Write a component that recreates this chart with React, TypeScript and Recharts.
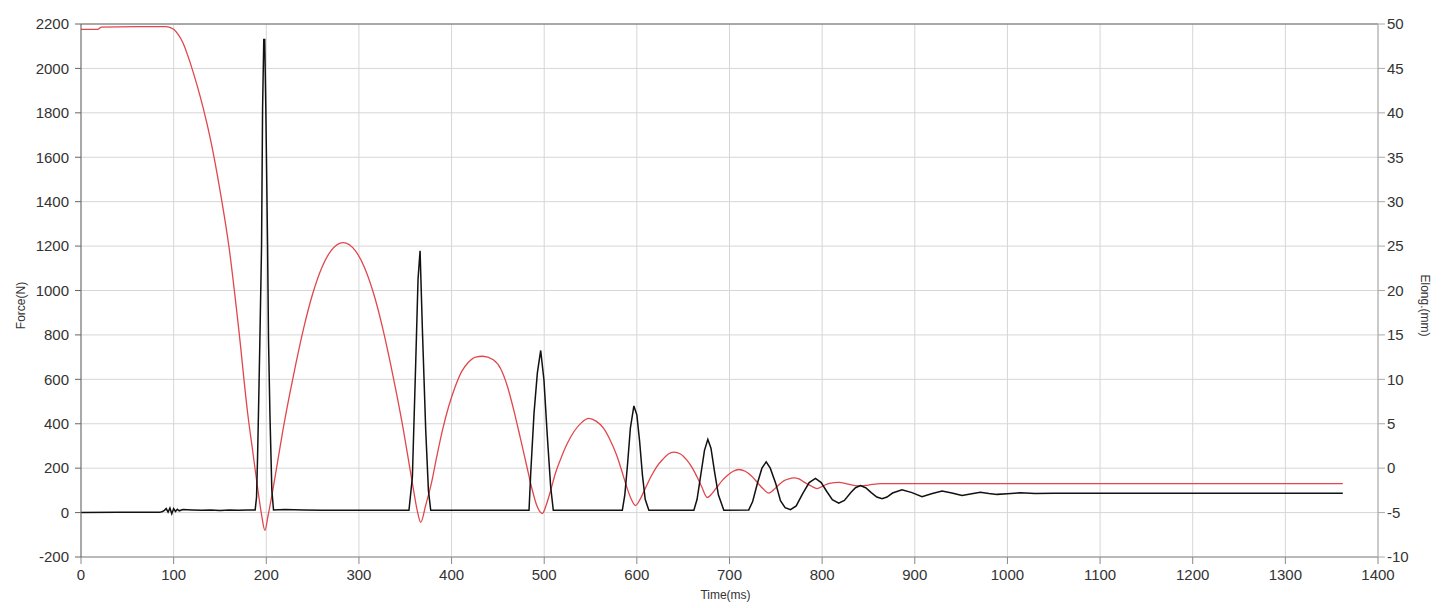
import React from 'react';
import { LineChart, Line, XAxis, YAxis, CartesianGrid, ReferenceLine, Label } from 'recharts';

// Force (N) trace, left axis
const forceTime = [
  0, 40, 85, 88, 90, 92, 94, 96, 98, 100, 102, 104, 106, 110, 120, 130, 140, 150, 160, 170, 180, 188,
  189.5, 190.6, 191.7, 193.1, 194.9, 196, 197.3, 198.3, 199.5, 201.4, 202.4, 203.9, 206, 207.8,
  220, 240, 260, 300, 354,
  357.7, 361.3, 363.8, 366, 368.5, 372.1, 375, 377.5, 483.6,
  485.4, 489, 492.6, 496.2, 499.7, 503.4, 507, 509.8, 584.3,
  587, 590, 593, 596.8, 600, 603, 606, 609, 613, 661.5,
  665, 669, 673, 676.6, 680, 684, 688, 693.9, 720.8,
  725, 730, 735, 739.6, 744, 750, 755, 760, 765.8,
  772, 779, 786, 792.8, 799, 805, 811, 817.9, 824, 831, 836, 841.3, 847, 853, 859, 864.7,
  870, 876, 886.2, 897, 907.8, 918, 929.4, 940, 951, 960, 970.7, 980, 988.7, 1000, 1014, 1030, 1050, 1100, 1362,
];
const forceValue = [
  0, 1, 1, 5, 10, 18, 2, 20, -5, 18, 5, 15, 8, 14, 12, 10, 12, 9, 12, 10, 12, 12,
  70, 250, 477, 779, 1201, 1820, 2130, 2130, 1820, 1201, 779, 448, 100, 12,
  14, 12, 10, 10, 10,
  160, 675, 1050, 1179, 824, 371, 100, 10, 10,
  175, 448, 629, 730, 598, 341, 115, 10, 10,
  80, 220, 380, 480, 440, 320, 170, 60, 10, 10,
  60, 170, 280, 330, 290, 180, 80, 10, 12,
  50, 130, 200, 228, 200, 130, 54, 22, 13,
  30, 85, 135, 154, 135, 95, 58, 42, 55, 90, 112, 122, 112, 90, 70, 62,
  70, 88, 103, 90, 72, 85, 97, 88, 77, 84, 92, 86, 82, 85, 89, 86, 87, 87, 87,
];

// Elongation (mm) trace, right axis
const elongTime = [
  0, 18, 22, 60, 92, 100, 105, 110, 118, 125, 132, 140, 150, 160, 170, 180, 186, 191, 195, 198.5,
  202, 207, 212, 218, 225, 232, 240, 250, 260, 270, 283, 296, 306, 316, 326, 334, 341, 348, 354, 359, 363, 366.7,
  372, 378, 384, 390, 397, 404, 411, 418, 426, 433.6, 445, 453, 460, 467, 474, 481, 487, 492, 498,
  502, 507, 512, 518, 525, 532, 540, 548, 556, 564, 571, 578, 584, 589, 594, 598.6,
  603, 609, 615, 621, 628, 634, 640, 647, 654, 660, 665, 670, 676,
  680, 686, 692, 698, 704, 710, 717, 724, 730, 736, 742.4,
  747, 753, 759, 764, 769.4, 775, 781, 788, 794.6,
  801, 808, 818, 828, 839, 850, 863, 900, 1000, 1100, 1200, 1300, 1362,
];
const elongValue = [
  49.4, 49.4, 49.65, 49.7, 49.7, 49.4, 48.8, 47.9, 45.6, 43.2, 40.5, 36.9, 31.3, 24.7, 15.9, 6.1, 1.4, -2.5, -5.3, -7.0,
  -5.3, -2.5, 0.6, 4.3, 8.2, 11.8, 15.6, 19.6, 22.6, 24.5, 25.4, 24.5, 22.6, 19.6, 15.6, 11.8, 8.2, 4.3, 0.6, -2.5, -4.8, -6.1,
  -4.2, -1.8, 1.3, 4.2, 7.0, 9.2, 10.9, 11.9, 12.5, 12.6, 12.2, 11.2, 9.3, 6.6, 3.5, 0.3, -2.4, -4.2, -5.1,
  -4.2, -2.5, -0.6, 1.1, 2.8, 4.1, 5.1, 5.6, 5.3, 4.5, 3.2, 1.5, -0.4, -2.1, -3.5, -4.2,
  -3.6, -2.3, -1.0, 0.1, 1.0, 1.6, 1.8, 1.6, 0.9, 0.0, -1.0, -2.1, -3.3,
  -3.0, -2.2, -1.4, -0.8, -0.35, -0.15, -0.35, -0.9, -1.6, -2.3, -2.8,
  -2.5, -1.9, -1.4, -1.2, -1.1, -1.2, -1.6, -2.0, -2.3,
  -2.0, -1.7, -1.6, -1.8, -2.0, -1.9, -1.75, -1.75, -1.75, -1.75, -1.75, -1.75, -1.75,
];

const timeTicks = [0, 100, 200, 300, 400, 500, 600, 700, 800, 900, 1000, 1100, 1200, 1300, 1400];
const forceTicks = [-200, 0, 200, 400, 600, 800, 1000, 1200, 1400, 1600, 1800, 2000, 2200];
const elongTicks = [-10, -5, 0, 5, 10, 15, 20, 25, 30, 35, 40, 45, 50];

const forceData = forceTime.map((t, i) => ({ t, v: forceValue[i] }));
const elongData = elongTime.map((t, i) => ({ t, v: elongValue[i] }));

const tickStyle = { fontSize: 15, fill: '#333', fontFamily: 'Arial, "Liberation Sans", sans-serif' };
const titleFont = 'Arial, "Liberation Sans", sans-serif';

const App: React.FC = () => {
  return (
    <div style={{ position: 'absolute', left: 0, top: 0, background: '#fff' }}>
      <LineChart width={1445} height={608} margin={{ top: 24, right: 0, bottom: 0, left: 0 }}>
        <CartesianGrid stroke="#d6d6d6" yAxisId="force" />
        <XAxis
          dataKey="t"
          type="number"
          domain={[0, 1400]}
          ticks={timeTicks}
          allowDuplicatedCategory={false}
          height={51}
          tick={tickStyle}
          tickSize={7}
          tickMargin={5}
          stroke="#888"
        >
          <Label
            content={({ viewBox }: any) => (
              <text
                x={viewBox.x + viewBox.width / 2 - 4}
                y={viewBox.y + 42}
                textAnchor="middle"
                fontSize={12}
                fontFamily={titleFont}
                fill="#333"
              >
                Time(ms)
              </text>
            )}
          />
        </XAxis>
        <YAxis
          yAxisId="force"
          domain={[-200, 2200]}
          ticks={forceTicks}
          width={81}
          tick={tickStyle}
          tickSize={6}
          tickMargin={6}
          stroke="#666"
        >
          <Label
            content={({ viewBox }: any) => {
              const cx = 22;
              const cy = viewBox.y + viewBox.height / 2 + 15;
              return (
                <text
                  x={cx}
                  y={cy}
                  transform={`rotate(-90, ${cx}, ${cy})`}
                  textAnchor="middle"
                  dominantBaseline="middle"
                  fontSize={12}
                  fontFamily={titleFont}
                  fill="#333"
                >
                  Force(N)
                </text>
              );
            }}
          />
        </YAxis>
        <YAxis
          yAxisId="elong"
          orientation="right"
          domain={[-10, 50]}
          ticks={elongTicks}
          width={67}
          tick={tickStyle}
          tickSize={7}
          tickMargin={2}
          stroke="#aaa"
        >
          <Label
            content={({ viewBox }: any) => {
              const cx = viewBox.x + 46;
              const cy = viewBox.y + viewBox.height / 2 + 15;
              return (
                <text
                  x={cx}
                  y={cy}
                  transform={`rotate(90, ${cx}, ${cy})`}
                  textAnchor="middle"
                  dominantBaseline="middle"
                  fontSize={12}
                  fontFamily={titleFont}
                  fill="#333"
                >
                  Elong.(mm)
                </text>
              );
            }}
          />
        </YAxis>
        <ReferenceLine yAxisId="force" y={2200} stroke="#666" />
        <Line
          yAxisId="elong"
          data={elongData}
          dataKey="v"
          type="monotone"
          stroke="#e0474c"
          strokeWidth={1.3}
          dot={false}
          isAnimationActive={false}
        />
        <Line
          yAxisId="force"
          data={forceData}
          dataKey="v"
          type="linear"
          stroke="#111"
          strokeWidth={1.5}
          dot={false}
          isAnimationActive={false}
        />
      </LineChart>
    </div>
  );
};

export default App;
